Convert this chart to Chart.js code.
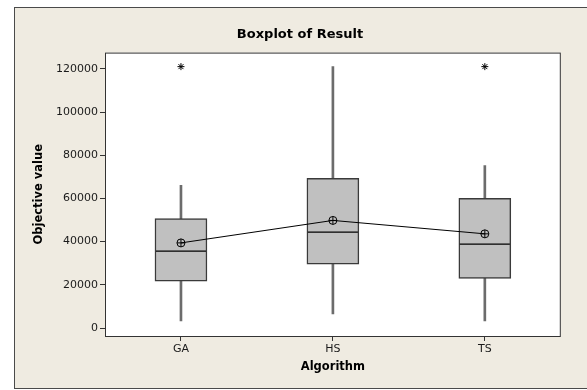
<!DOCTYPE html>
<html>
<head>
<meta charset="utf-8">
<script src="https://cdn.jsdelivr.net/npm/chart.js@4.4.1/dist/chart.umd.min.js"></script>
<style>
  html, body { margin: 0; padding: 0; background: #ffffff; }
  #wrap { width: 587px; height: 390px; }
</style>
</head>
<body>
<div id="wrap"><canvas id="chart" width="587" height="390"></canvas></div>
<script>
    // boxplot stats
    const algorithms = ['GA', 'HS', 'TS'];
    const whiskerLow = [3300, 6500, 3300];
    const q1 = [21700, 29500, 23000];
    const median = [35600, 44400, 38800];
    const q3 = [50700, 69300, 60000];
    const whiskerHigh = [66000, 121000, 75200];
    const means = [39400, 49800, 43600];
    const outliers = [121000, null, 121000];
    const yTicks = [0, 20000, 40000, 60000, 80000, 100000, 120000];

    const font = 'DejaVu Sans';
    const beige = '#efebe1';

    let boxData = [];
    let whiskerData = [];
    for (let i = 0; i < algorithms.length; i++) {
        boxData.push([q1[i], q3[i]]);
        whiskerData.push([whiskerLow[i], whiskerHigh[i]]);
    }

    // frame + white plot area
    const backdrop = {
        id: 'backdrop',
        beforeDraw(chart) {
            const ctx = chart.ctx;
            const a = chart.chartArea;
            ctx.save();
            ctx.fillStyle = '#ffffff';
            ctx.fillRect(0, 0, chart.width, chart.height);
            ctx.fillStyle = beige;
            ctx.fillRect(14, 7, chart.width, 382);
            ctx.strokeStyle = '#4a4a4a';
            ctx.lineWidth = 1;
            ctx.strokeRect(14.5, 7.5, chart.width + 10, 381);
            ctx.fillStyle = '#ffffff';
            ctx.fillRect(a.left, a.top, a.right - a.left, a.bottom - a.top);
            ctx.strokeStyle = '#333333';
            ctx.strokeRect(a.left + 0.5, a.top + 0.5, a.right - a.left - 1, a.bottom - a.top);
            ctx.restore();
        }
    };

    const myChart = new Chart(document.getElementById('chart'), {
        type: 'bar',
        data: {
            labels: algorithms,
            datasets: [
                {
                    type: 'line',
                    data: means,
                    borderColor: '#000000',
                    borderWidth: 1,
                    pointStyle: 'circle',
                    pointRadius: 4,
                    pointBorderWidth: 1,
                    pointBackgroundColor: 'rgba(0,0,0,0)',
                    pointBorderColor: '#000000',
                    order: 0
                },
                {
                    type: 'line',
                    data: means,
                    showLine: false,
                    pointStyle: 'cross',
                    pointRadius: 4,
                    pointBorderWidth: 1,
                    pointBorderColor: '#000000',
                    order: 0
                },
                {
                    type: 'line',
                    data: outliers,
                    showLine: false,
                    pointStyle: 'star',
                    pointRadius: 3.5,
                    pointBorderWidth: 1,
                    pointBorderColor: '#000000',
                    order: 0
                },
                {
                    type: 'line',
                    data: median,
                    showLine: false,
                    pointStyle: 'line',
                    pointRadius: 25,
                    pointBorderWidth: 1.2,
                    pointBorderColor: '#000000',
                    order: 1
                },
                {
                    data: boxData,
                    backgroundColor: '#c0c0c0',
                    borderColor: '#3a3a3a',
                    borderWidth: 1.5,
                    borderSkipped: false,
                    barThickness: 52,
                    grouped: false,
                    order: 2
                },
                {
                    data: whiskerData,
                    backgroundColor: '#6c6c6c',
                    borderWidth: 0,
                    barThickness: 2,
                    grouped: false,
                    order: 3
                }
            ]
        },
        options: {
            responsive: false,
            animation: false,
            layout: { padding: { left: 38, right: 25, top: 0, bottom: 0 } },
            plugins: {
                legend: { display: false },
                tooltip: { enabled: false },
                title: {
                    display: true,
                    text: 'Boxplot of Result',
                    color: '#000000',
                    font: { family: font, size: 13, weight: 'bold' },
                    padding: { top: 27, bottom: 10 }
                }
            },
            scales: {
                x: {
                    offset: true,
                    grid: { display: true, offset: false, drawOnChartArea: false, drawTicks: true, tickLength: 5, color: '#333333' },
                    border: { display: false },
                    ticks: { color: '#1a1a1a', font: { family: font, size: 11 }, padding: 2 },
                    title: {
                        display: true,
                        text: 'Algorithm',
                        color: '#000000',
                        font: { family: font, size: 11.5, weight: 'bold' },
                        padding: { top: 0, bottom: 16 }
                    },
                    afterFit: function(scale) { scale.height = 54; }
                },
                y: {
                    min: -3700,
                    max: 127500,
                    grid: { display: true, drawOnChartArea: false, drawTicks: true, tickLength: 5, color: '#333333' },
                    border: { display: false },
                    ticks: {
                        color: '#1a1a1a',
                        font: { family: font, size: 11 },
                        padding: 2,
                        callback: function(value) { return String(value); }
                    },
                    afterBuildTicks: function(scale) {
                        scale.ticks = yTicks.map(v => ({ value: v }));
                    },
                    title: {
                        display: true,
                        text: 'Objective value',
                        color: '#000000',
                        font: { family: font, size: 11.5, weight: 'bold', lineHeight: 0.1 },
                        padding: { top: 0, bottom: 0 }
                    },
                    afterFit: function(scale) { scale.width = 67; }
                }
            }
        },
        plugins: [backdrop]
    });
</script>
</body>
</html>
